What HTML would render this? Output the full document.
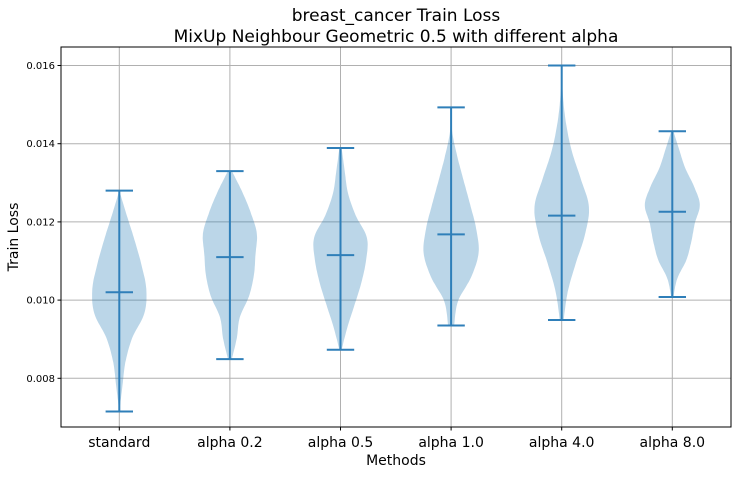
<!DOCTYPE html>
<html><head><meta charset="utf-8"><style>
body{margin:0;background:#fff}
svg text{font-family:"DejaVu Sans","Liberation Sans",sans-serif;fill:#000}
</style></head><body>
<svg id="chart" width="737" height="474" viewBox="0 0 737 474">
<rect width="737" height="474" fill="#fff"/>
<text x="396" y="21" font-size="17" text-anchor="middle">breast_cancer Train Loss</text>
<text x="396" y="42" font-size="17" text-anchor="middle">MixUp Neighbour Geometric 0.5 with different alpha</text>
<g id="grid"></g>
<g id="violins"></g>
<rect x="61" y="47" width="670" height="380" fill="none" stroke="#000" stroke-width="1"/>
<g id="ticks"></g>
<text x="396" y="465" font-size="14" text-anchor="middle">Methods</text>
<text transform="translate(18,237) rotate(-90)" font-size="14" text-anchor="middle">Train Loss</text>
</svg>
<script>
const categories=["standard","alpha 0.2","alpha 0.5","alpha 1.0","alpha 4.0","alpha 8.0"];
const mins=[0.00715,0.00849,0.00873,0.00935,0.00949,0.01008];
const maxs=[0.0128,0.0133,0.01389,0.01493,0.016,0.01432];
const means=[0.0102,0.0111,0.01115,0.01168,0.01216,0.01226];
const densities=[
 [0,0.11,0.22,0.47,0.91,0.98,0.8,0.55,0.27,0],
 [0.07,0.25,0.36,0.69,0.87,0.93,0.98,0.76,0.45,0.07],
 [0.04,0.25,0.51,0.76,0.93,0.96,0.55,0.27,0.15,0.04],
 [0.11,0.25,0.73,1.0,0.91,0.69,0.45,0.22,0.04,0],
 [0.07,0.22,0.51,0.84,0.99,0.69,0.36,0.15,0.04,0],
 [0.04,0.18,0.51,0.69,0.82,1.0,0.79,0.47,0.25,0.04]
];
const yTicks=[0.008,0.010,0.012,0.014,0.016];
const yTickLabels=["0.008","0.010","0.012","0.014","0.016"];
const NS="http://www.w3.org/2000/svg";
const yScale=v=>65.5+(0.016-v)/0.002*78.2;
const xScale=i=>119.3+i*110.6;
const maxHalf=27.5;
function mk(tag,attrs,parent){const e=document.createElementNS(NS,tag);for(const k in attrs)e.setAttribute(k,attrs[k]);parent.appendChild(e);return e;}
const grid=document.getElementById('grid'),vg=document.getElementById('violins'),tg=document.getElementById('ticks');
yTicks.forEach((t,i)=>{
 const y=yScale(t);
 const l=mk('line',{x1:61,x2:731,y1:y,y2:y,stroke:'#b0b0b0','stroke-width':1},grid);
 
 
 mk('line',{x1:57.5,x2:61,y1:y,y2:y,stroke:'#000'},tg);
 const tx=mk('text',{x:55,y:y+3.5,'font-size':10,'text-anchor':'end'},tg);tx.textContent=yTickLabels[i];
 
 
});
categories.forEach((c,i)=>{
 const x=xScale(i);
 const l=mk('line',{x1:x,x2:x,y1:47,y2:427,stroke:'#b0b0b0','stroke-width':1},grid);
 
 
 mk('line',{x1:x,x2:x,y1:427,y2:430.5,stroke:'#000'},tg);
 const tx=mk('text',{x:x,y:447,'font-size':14,'text-anchor':'middle'},tg);tx.textContent=c;
 
 
 const d=densities[i],n=d.length;
 const pts=d.map((w,k)=>[w*maxHalf,yScale(mins[i]+(maxs[i]-mins[i])*k/(n-1))]);
 const fine=[];
 for(let k=0;k<n-1;k++){
  const p0=pts[Math.max(0,k-1)],p1=pts[k],p2=pts[k+1],p3=pts[Math.min(n-1,k+2)];
  for(let s=0;s<10;s++){const t=s/10,t2=t*t,t3=t2*t;
   const f=(a,b,c2,d2)=>0.5*((2*b)+(-a+c2)*t+(2*a-5*b+4*c2-d2)*t2+(-a+3*b-3*c2+d2)*t3);
   fine.push([Math.max(0,f(p0[0],p1[0],p2[0],p3[0])),f(p0[1],p1[1],p2[1],p3[1])]);}
 }
 fine.push(pts[n-1]);
 let path='M'+fine.map(p=>(x+p[0]).toFixed(1)+','+p[1].toFixed(1)).join('L');
 path+='L'+fine.slice().reverse().map(p=>(x-p[0]).toFixed(1)+','+p[1].toFixed(1)).join('L')+'Z';
 const body=mk('path',{d:path,fill:'#1f77b4','fill-opacity':0.3,stroke:'none'},vg);
 
 
 const col='#2f7fb9';
 const st=mk('line',{x1:x,x2:x,y1:yScale(mins[i]),y2:yScale(maxs[i]),stroke:col,'stroke-width':2},vg);
 
 
 [mins[i],maxs[i],means[i]].forEach((v,j)=>{
  const cap=mk('line',{x1:x-13.7,x2:x+13.7,y1:yScale(v),y2:yScale(v),stroke:col,'stroke-width':2},vg);
  
  
 });
});
</script>
</body></html>
